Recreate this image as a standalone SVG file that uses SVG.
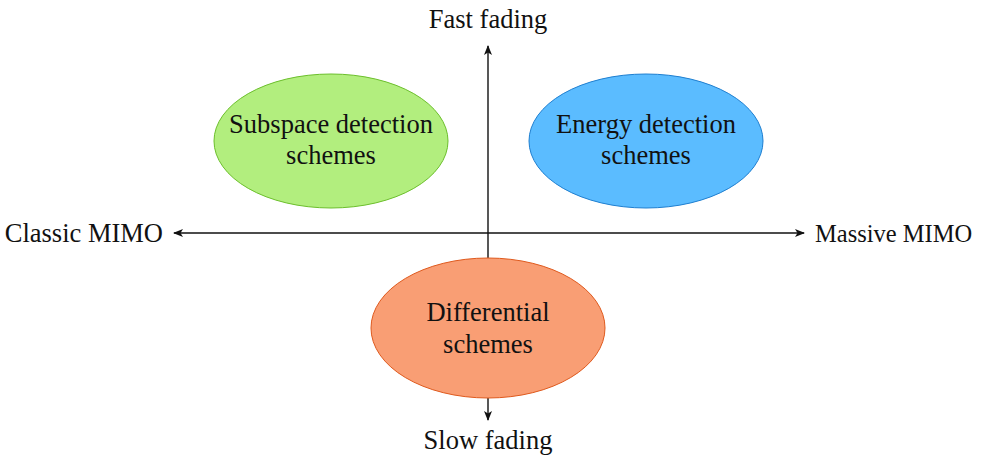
<svg xmlns="http://www.w3.org/2000/svg" width="983" height="459" viewBox="0 0 983 459">
<style>
text{font-family:"Liberation Serif","DejaVu Serif",serif;font-size:26.5px;fill:#111;}
.c{text-anchor:middle;}
.ax{stroke:#111;stroke-width:1.4;fill:none;}
</style>
<defs>
<marker id="ah" markerWidth="10" markerHeight="8" refX="9" refY="4" orient="auto" markerUnits="userSpaceOnUse">
<path d="M0,0 L10,4 L0,8 L2.5,4 Z" fill="#111"/>
</marker>
</defs>
<rect width="983" height="459" fill="#fff"/>
<g id="connectors">
<line class="ax" x1="488" y1="233" x2="174" y2="233" marker-end="url(#ah)"/>
<line class="ax" x1="488" y1="233" x2="804" y2="233" marker-end="url(#ah)"/>
<line class="ax" x1="488" y1="233" x2="488" y2="46" marker-end="url(#ah)"/>
<line class="ax" x1="488" y1="233" x2="488" y2="420" marker-end="url(#ah)"/>
</g>
<g id="subspace">
<ellipse cx="331" cy="141" rx="117" ry="67" fill="#b2ee7e" stroke="#6cbf2c" stroke-width="1"/>
<text class="c" x="331" y="133">Subspace detection</text>
<text class="c" x="331" y="164">schemes</text>
</g>
<g id="energy">
<ellipse cx="646" cy="141" rx="117" ry="67" fill="#5bbcff" stroke="#1f7fd0" stroke-width="1"/>
<text class="c" x="646" y="133">Energy detection</text>
<text class="c" x="646" y="164">schemes</text>
</g>
<g id="differential">
<ellipse cx="488" cy="328" rx="117" ry="70" fill="#f99e74" stroke="#df5a1e" stroke-width="1"/>
<text class="c" x="488" y="321">Differential</text>
<text class="c" x="488" y="353">schemes</text>
</g>
<g id="labels">
<text class="c" x="488" y="28">Fast fading</text>
<text class="c" x="488" y="449">Slow fading</text>
<text x="163" y="242" text-anchor="end">Classic MIMO</text>
<text x="815" y="242" style="font-size:24.5px">Massive MIMO</text>
</g>
</svg>
